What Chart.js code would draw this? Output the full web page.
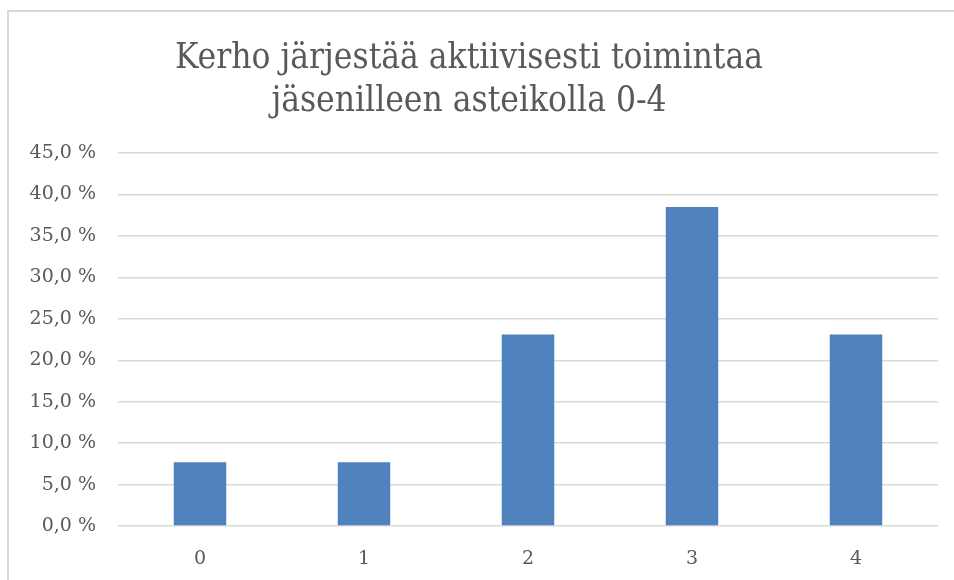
<!DOCTYPE html>
<html>
<head>
<meta charset="utf-8">
<script src="https://cdn.jsdelivr.net/npm/chart.js@4/dist/chart.umd.min.js"></script>
<style>
  html, body { margin: 0; padding: 0; background: #fff; }
  #wrap { position: relative; width: 954px; height: 580px; overflow: hidden; }
  #frame { position: absolute; left: 7px; top: 10px; width: 970px; height: 600px; border: 2px solid #d9d9d9; }
  #chart { position: absolute; left: 0; top: 0; }
</style>
</head>
<body>
<div id="wrap">
  <div id="frame"></div>
  <canvas id="chart" width="954" height="580"></canvas>
</div>
<script>
// Data
const categories = ['0', '1', '2', '3', '4'];
const shares = [7.7, 7.7, 23.1, 38.5, 23.1];
const titleLines = ['Kerho järjestää aktiivisesti toimintaa', 'jäsenilleen asteikolla 0-4'];

const titleFont = "'DejaVu Serif Condensed', 'DejaVu Serif', serif";
const tickFont = "'DejaVu Serif', serif";
const textColor = '#595959';
const gridColor = '#d9d9d9';

new Chart(document.getElementById('chart'), {
    type: 'bar',
    data: {
        labels: categories,
        datasets: [{
            data: shares,
            backgroundColor: '#4f81bd',
            borderWidth: 0,
            barPercentage: 0.32,
            categoryPercentage: 1.0
        }]
    },
    options: {
        responsive: false,
        animation: false,
        layout: { padding: { top: 37, right: 16, bottom: 0, left: 0 } },
        plugins: {
            legend: { display: false },
            tooltip: { enabled: false },
            title: {
                display: true,
                text: titleLines,
                color: textColor,
                font: { family: titleFont, size: 35, weight: 'normal', lineHeight: 1.23 },
                padding: { top: 0, bottom: 30 }
            }
        },
        scales: {
            x: {
                grid: { display: false },
                border: { display: false },
                ticks: { color: textColor, font: { family: tickFont, size: 19 }, padding: 14 },
                afterFit: s => { s.height = 54; }
            },
            y: {
                min: 0,
                max: 45,
                ticks: {
                    stepSize: 5,
                    color: textColor,
                    font: { family: tickFont, size: 19 },
                    padding: 22,
                    callback: v => v.toFixed(1).replace('.', ',') + ' %'
                },
                grid: { color: gridColor, lineWidth: 1.5, drawTicks: false },
                border: { display: false },
                afterFit: s => { s.width = 118; }
            }
        }
    }
});
</script>
</body>
</html>
